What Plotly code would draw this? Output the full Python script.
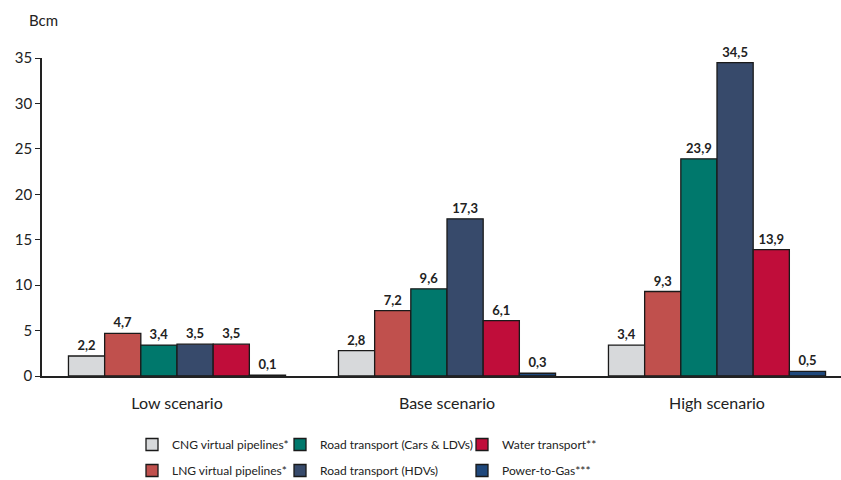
import plotly.graph_objects as go

scenarios = ["Low scenario", "Base scenario", "High scenario"]

series_names = [
    "CNG virtual pipelines*",
    "LNG virtual pipelines*",
    "Road transport (Cars & LDVs)",
    "Road transport (HDVs)",
    "Water transport**",
    "Power-to-Gas***",
]
cng_virtual = [2.2, 2.8, 3.4]
lng_virtual = [4.7, 7.2, 9.3]
road_cars = [3.4, 9.6, 23.9]
road_hdv = [3.5, 17.3, 34.5]
water = [3.5, 6.1, 13.9]
power_to_gas = [0.1, 0.3, 0.5]

series_values = [cng_virtual, lng_virtual, road_cars, road_hdv, water, power_to_gas]
colors = ["#D7D9DB", "#C0504D", "#00786C", "#374A6B", "#C00D3A", "#1F487C"]

FONT = "Lato, 'Open Sans', sans-serif"

W, H = 841, 480
ml, mr, mt, mb = 42, 0, 58, 104
pw = W - ml - mr
ph = H - mt - mb
cat_px = 270.0

def lx(px):
    return (px - ml) / pw

def ly(py):
    return (H - mb - py) / ph

# one legend box per series, laid out as a 3-column x 2-row grid
legend_cols = [132, 280, 462]
legend_rows = [430, 456]
legend_ids = ["legend", "legend2", "legend3", "legend4", "legend5", "legend6"]
legend_cells = [(0, 0), (0, 1), (1, 0), (1, 1), (2, 0), (2, 1)]

fig = go.Figure()
for name, vals, col, lg in zip(series_names, series_values, colors, legend_ids):
    fig.add_trace(go.Bar(
        x=scenarios, y=vals, name=name, legend=lg,
        marker=dict(color=col, line=dict(color="#1a1a1a", width=1.3)),
        text=vals, texttemplate="%{y:.1f}", textposition="outside",
        textfont=dict(family=FONT, size=13, color="#222", weight="bold"),
        cliponaxis=False,
    ))

legend_common = dict(
    orientation="v", yanchor="top", xanchor="left",
    font=dict(family=FONT, size=12, color="#222"),
    bgcolor="rgba(0,0,0,0)", tracegroupgap=0, itemwidth=30,
)
legend_layout = {
    lg: dict(x=lx(legend_cols[c]), y=ly(legend_rows[r]), **legend_common)
    for lg, (c, r) in zip(legend_ids, legend_cells)
}

fig.update_layout(
    width=W, height=H,
    margin=dict(l=ml, r=mr, t=mt, b=mb, autoexpand=False),
    paper_bgcolor="white", plot_bgcolor="white",
    separators=",.",
    barmode="group", bargap=0.196, bargroupgap=0,
    font=dict(family=FONT, size=14, color="#222"),
    showlegend=True,
    xaxis=dict(
        range=[-0.5, -0.5 + pw / cat_px], automargin=False,
        showline=True, linecolor="#222", linewidth=1.5,
        ticks="", ticklabelstandoff=12,
        tickfont=dict(family=FONT, size=16, color="#222"),
        showgrid=False, zeroline=False,
    ),
    yaxis=dict(
        range=[0, 35], tick0=0, dtick=5, automargin=False,
        showline=True, linecolor="#222", linewidth=1.5,
        ticks="outside", ticklen=5, tickcolor="#222",
        tickfont=dict(family=FONT, size=15, color="#222"),
        showgrid=False, zeroline=False,
    ),
    annotations=[dict(
        text="Bcm", xref="paper", yref="paper", x=lx(27), y=ly(20),
        xanchor="left", yanchor="middle", showarrow=False,
        font=dict(family=FONT, size=15, color="#222"),
    )],
    **legend_layout,
)

fig.write_html("out.html")
